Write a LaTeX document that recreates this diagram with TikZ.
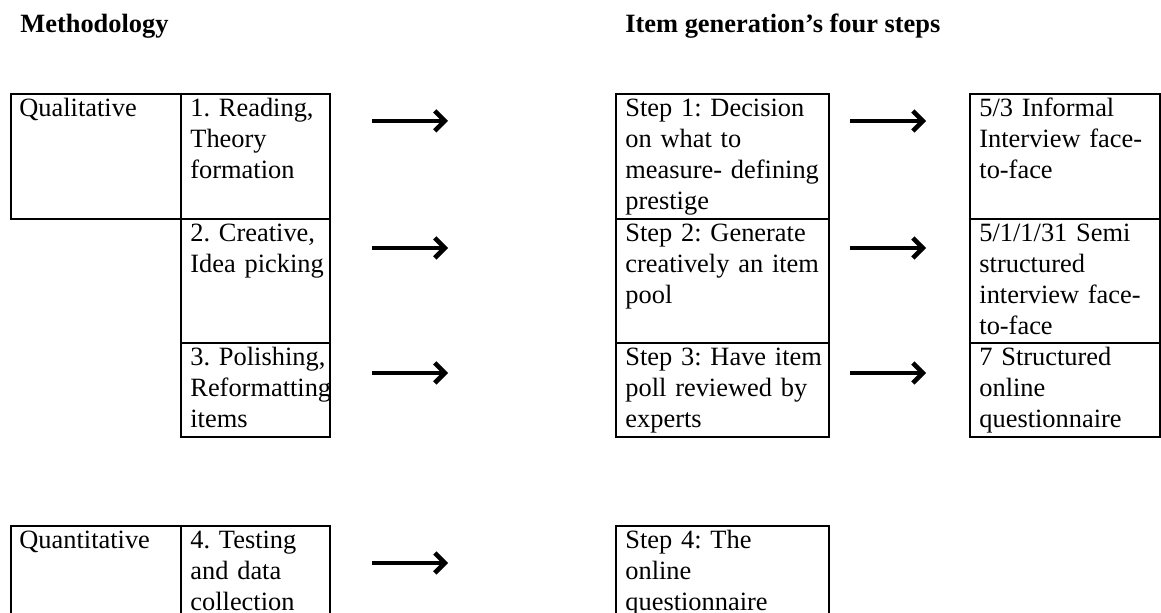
\documentclass[tikz,border=0pt]{standalone}
\usepackage{fontspec}
\setmainfont{Liberation Serif}
\usetikzlibrary{fit,calc,arrows.meta}
\begin{document}
\frenchspacing
\begin{tikzpicture}[x=0.5pt,y=-0.5pt,
  cell/.style={draw, line width=1pt, inner sep=0pt},
  txt/.style={anchor=base west, inner sep=0pt, text width=110pt, align=left,
    font=\fontsize{13.2}{15.5}\selectfont\frenchspacing},
  head/.style={anchor=base west, inner sep=0pt,
    font=\fontsize{13.2}{15.5}\selectfont\bfseries},
  arr/.style={line width=2.3pt, -{Straight Barb[length=5pt,width=10pt]}}]
\clip (0,0) rectangle (1161,613);
\fill[white] (0,0) rectangle (1161,613);

% headings
\node[head] (h1) at (20,33) {Methodology};
\node[head] (h2) at (625,33) {Item generation’s four steps};

% boxes
\node[cell, fit={(11,94) (181,219)}] (q1) {};
\node[cell, fit={(181,94) (330,219)}] (c1) {};
\node[cell, fit={(181,219) (330,343)}] (c2) {};
\node[cell, fit={(181,343) (330,437)}] (c3) {};
\node[cell, fit={(616,94) (829,219)}] (s1) {};
\node[cell, fit={(616,219) (829,343)}] (s2) {};
\node[cell, fit={(616,343) (829,437)}] (s3) {};
\node[cell, fit={(970,94) (1160,219)}] (r1) {};
\node[cell, fit={(970,219) (1160,343)}] (r2) {};
\node[cell, fit={(970,343) (1160,437)}] (r3) {};
\node[cell, fit={(11,526) (181,650)}] (q2) {};
\node[cell, fit={(181,526) (330,650)}] (c4) {};
\node[cell, fit={(616,526) (829,650)}] (s4) {};

% texts
\node[txt] (tq1) at ($(q1.north west)+(9,24)$) {Qualitative};
\node[txt] (tc1) at ($(c1.north west)+(10,24)$) {1. Reading,\\Theory\\formation};
\node[txt] (tc2) at ($(c2.north west)+(10,24)$) {2. Creative,\\Idea picking};
\node[txt] (tc3) at ($(c3.north west)+(10,24)$) {3. Polishing,\\Reformatting\\items};
\node[txt] (ts1) at ($(s1.north west)+(10,24)$) {Step 1: Decision\\on what to\\measure- defining\\prestige};
\node[txt] (ts2) at ($(s2.north west)+(10,24)$) {Step 2: Generate\\creatively an item\\pool};
\node[txt] (ts3) at ($(s3.north west)+(10,24)$) {Step 3: Have item\\poll reviewed by\\experts};
\node[txt] (tr1) at ($(r1.north west)+(10,24)$) {5/3 Informal\\Interview face-\\to-face};
\node[txt] (tr2) at ($(r2.north west)+(10,24)$) {5/1/1/31 Semi\\structured\\interview face-\\to-face};
\node[txt] (tr3) at ($(r3.north west)+(10,24)$) {7 Structured\\online\\questionnaire};
\node[txt] (tq2) at ($(q2.north west)+(9,24)$) {Quantitative};
\node[txt] (tc4) at ($(c4.north west)+(10,24)$) {4. Testing\\and data\\collection};
\node[txt] (ts4) at ($(s4.north west)+(10,24)$) {Step 4: The\\online\\questionnaire};

% arrows
\coordinate (la1) at (372,121); \coordinate (lb1) at (448,121);
\coordinate (la2) at (372,248); \coordinate (lb2) at (448,248);
\coordinate (la3) at (372,373); \coordinate (lb3) at (448,373);
\coordinate (la4) at (372,563); \coordinate (lb4) at (448,563);
\coordinate (ra1) at (850,121); \coordinate (rb1) at (926,121);
\coordinate (ra2) at (850,248); \coordinate (rb2) at (926,248);
\coordinate (ra3) at (850,373); \coordinate (rb3) at (926,373);
\draw[arr] (la1) -- (lb1);
\draw[arr] (la2) -- (lb2);
\draw[arr] (la3) -- (lb3);
\draw[arr] (la4) -- (lb4);
\draw[arr] (ra1) -- (rb1);
\draw[arr] (ra2) -- (rb2);
\draw[arr] (ra3) -- (rb3);
\end{tikzpicture}
\end{document}
